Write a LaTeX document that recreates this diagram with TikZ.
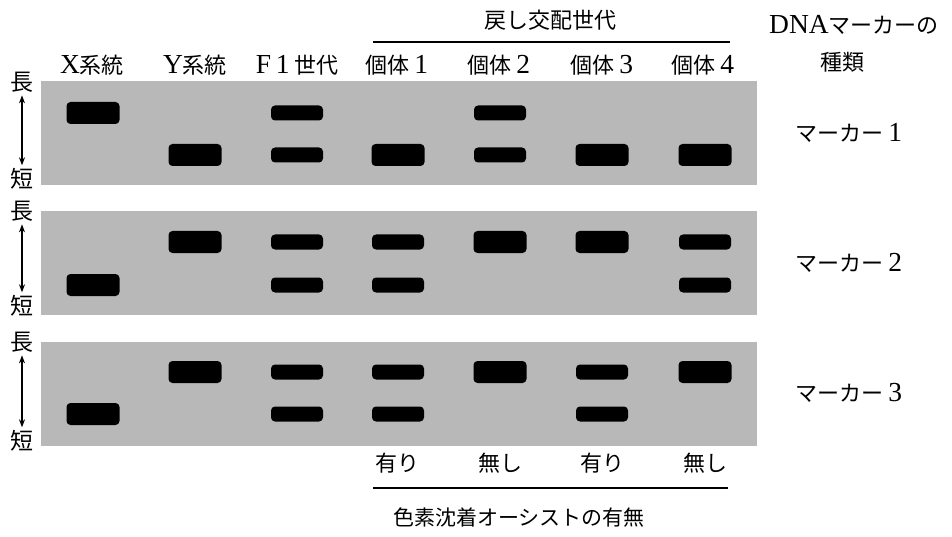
\documentclass[tikz,border=0pt]{standalone}
\usepackage{fontspec}
\setmainfont{Liberation Serif}[Scale=1.25]
\newfontfamily\jp{Noto Sans CJK JP}
\usetikzlibrary{arrows.meta}
\definecolor{gelgray}{gray}{0.72}
\tikzset{
  panel/.style={fill=gelgray, draw=none},
  thickband/.style={rectangle, fill=black, rounded corners=4pt, minimum width=53pt, minimum height=22pt, inner sep=0pt},
  thinband/.style={rectangle, fill=black, rounded corners=4pt, minimum width=52pt, minimum height=15pt, inner sep=0pt},
  lbl/.style={font=\fontsize{22}{24}\selectfont, inner sep=1pt},
  sidelbl/.style={font=\fontsize{23}{25}\selectfont, inner sep=1pt},
  smalllbl/.style={font=\fontsize{21}{23}\selectfont, inner sep=1pt},
  rule/.style={line width=1.2pt},
  lenarrow/.style={line width=1.3pt, {Stealth[length=8pt,width=6pt]}-{Stealth[length=8pt,width=6pt]}, shorten <=2pt, shorten >=2pt}
}
\begin{document}
\begin{tikzpicture}[x=1pt,y=-1pt]
\useasboundingbox (0,0) rectangle (952,537);
% panels
\fill[panel] (41,81) rectangle (757,185);
\fill[panel] (41,211) rectangle (757,315);
\fill[panel] (41,342) rectangle (757,446);

% headers
\node[lbl] (hX) at (92,65) {X{\jp 系統}};
\node[lbl] (hY) at (195,65) {Y{\jp 系統}};
\node[lbl] (hF) at (297,65) {F\,1\,{\jp 世代}};
\node[lbl] (h1) at (397,65) {{\jp 個体}\,1};
\node[lbl] (h2) at (499,65) {{\jp 個体}\,2};
\node[lbl] (h3) at (602,65) {{\jp 個体}\,3};
\node[lbl] (h4) at (703,65) {{\jp 個体}\,4};
\node[lbl] (hB) at (550,20) {\jp 戻し交配世代};
\coordinate (tl) at (373,42);
\coordinate (tr) at (730,42);
\draw[rule] (tl) -- (tr);
\node[lbl] (dna1) at (854,25) {DNA{\jp マーカーの}};
\node[lbl] (dna2) at (842,62) {\jp 種類};
\node[lbl] (m1) at (849,133) {{\jp マーカー}\,1};
\node[lbl] (m2) at (849,263) {{\jp マーカー}\,2};
\node[lbl] (m3) at (849,393) {{\jp マーカー}\,3};

% length arrows
\node[sidelbl] (L1) at (22,82) {\jp 長};
\node[sidelbl] (S1) at (22,179) {\jp 短};
\node[sidelbl] (L2) at (22,211) {\jp 長};
\node[sidelbl] (S2) at (22,306) {\jp 短};
\node[sidelbl] (L3) at (22,342) {\jp 長};
\node[sidelbl] (S3) at (22,441) {\jp 短};
\draw[lenarrow] (L1) -- (S1);
\draw[lenarrow] (L2) -- (S2);
\draw[lenarrow] (L3) -- (S3);

% marker 1 bands
\node[thickband] (a1) at (93,113) {};
\node[thickband] (a2) at (195,155) {};
\node[thinband] (a3u) at (297,113) {};
\node[thinband] (a3l) at (297,155) {};
\node[thickband] (a4) at (398,155) {};
\node[thinband] (a5u) at (500,113) {};
\node[thinband] (a5l) at (500,155) {};
\node[thickband] (a6) at (602,155) {};
\node[thickband] (a7) at (705,155) {};

% marker 2 bands
\node[thickband] (b1) at (93,285) {};
\node[thickband] (b2) at (195,242) {};
\node[thinband] (b3u) at (297,242) {};
\node[thinband] (b3l) at (297,285) {};
\node[thinband] (b4u) at (398,242) {};
\node[thinband] (b4l) at (398,285) {};
\node[thickband] (b5) at (500,242) {};
\node[thickband] (b6) at (602,242) {};
\node[thinband] (b7u) at (705,242) {};
\node[thinband] (b7l) at (705,285) {};

% marker 3 bands
\node[thickband] (c1) at (93,414) {};
\node[thickband] (c2) at (195,372) {};
\node[thinband] (c3u) at (297,372) {};
\node[thinband] (c3l) at (297,414) {};
\node[thinband] (c4u) at (398,372) {};
\node[thinband] (c4l) at (398,414) {};
\node[thickband] (c5) at (500,372) {};
\node[thinband] (c6u) at (602,372) {};
\node[thinband] (c6l) at (602,414) {};
\node[thickband] (c7) at (705,372) {};

% bottom labels
\node[lbl] (p1) at (397,463) {\jp 有り};
\node[lbl] (p2) at (500,463) {\jp 無し};
\node[lbl] (p3) at (602,463) {\jp 有り};
\node[lbl] (p4) at (705,463) {\jp 無し};
\coordinate (bl) at (373,488);
\coordinate (br) at (728,488);
\draw[rule] (bl) -- (br);
\node[smalllbl] (pig) at (519,518) {\jp 色素沈着オーシストの有無};
\end{tikzpicture}
\end{document}
